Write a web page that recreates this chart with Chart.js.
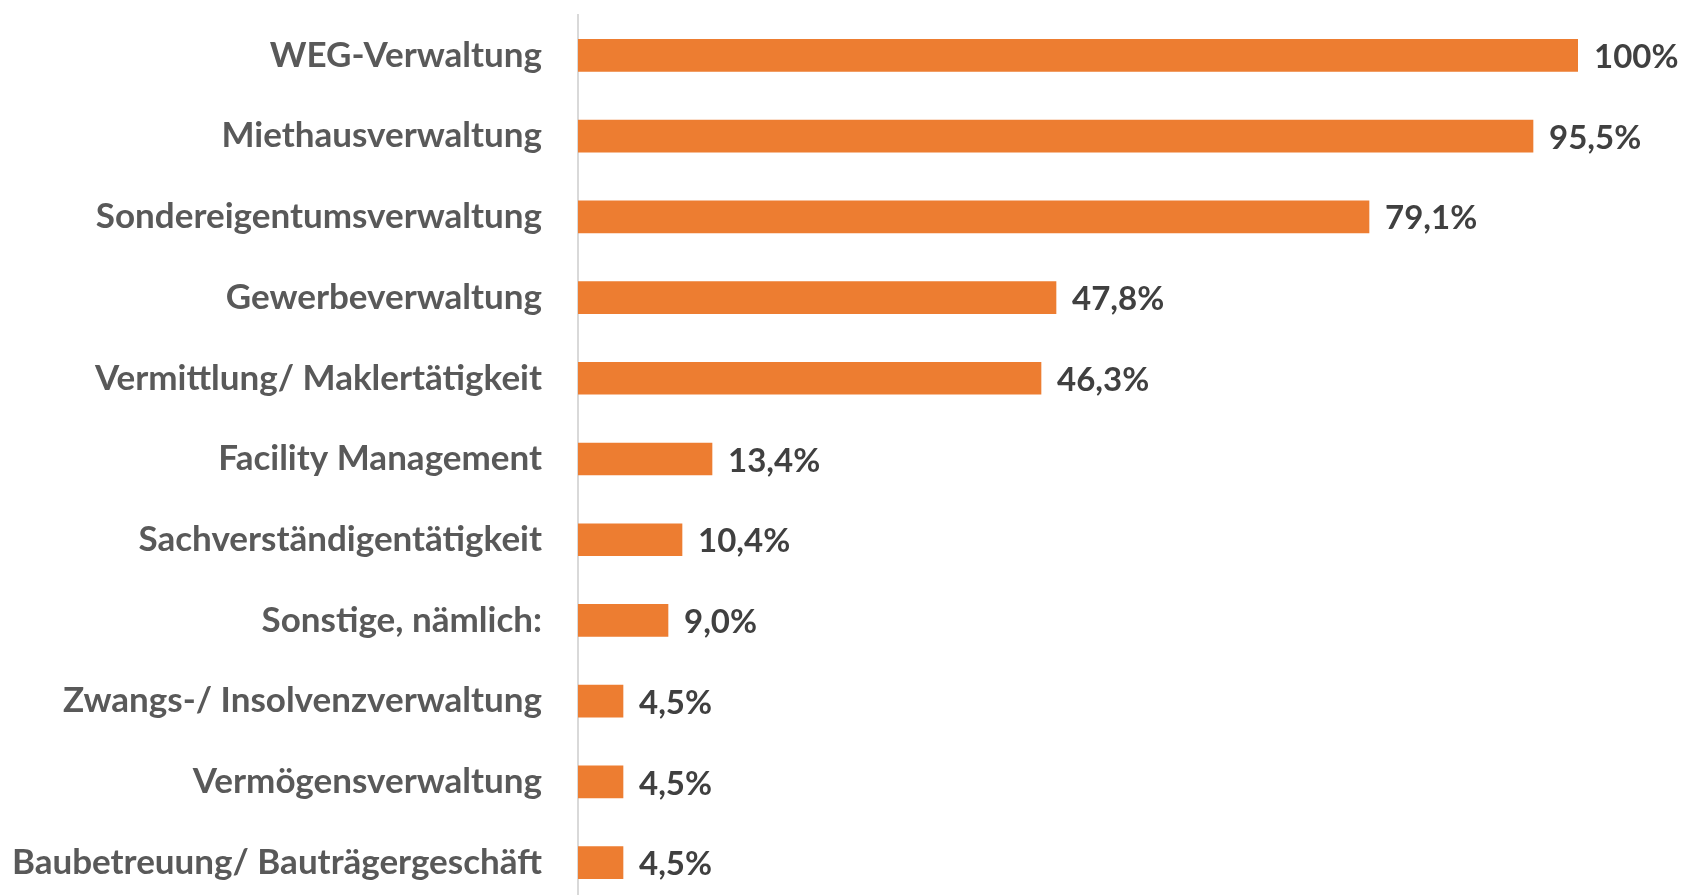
<!DOCTYPE html>
<html>
<head>
<meta charset="utf-8">
<script src="https://cdn.jsdelivr.net/npm/chart.js@4"></script>
<style>
  html, body { margin: 0; padding: 0; background: #fff; overflow: hidden; }
  canvas { display: block; }
</style>
</head>
<body>
<canvas id="chart" width="1682" height="903"></canvas>
<script>
const categories = [
  "WEG-Verwaltung",
  "Miethausverwaltung",
  "Sondereigentumsverwaltung",
  "Gewerbeverwaltung",
  "Vermittlung/ Maklertätigkeit",
  "Facility Management",
  "Sachverständigentätigkeit",
  "Sonstige, nämlich:",
  "Zwangs-/ Insolvenzverwaltung",
  "Vermögensverwaltung",
  "Baubetreuung/ Bauträgergeschäft"
];
const values = [100, 95.5, 79.1, 47.8, 46.3, 13.4, 10.4, 9.0, 4.5, 4.5, 4.5];

const FONT = "Lato, 'Open Sans', sans-serif";

function fmt(v) {
  if (v === 100) return "100%";
  return v.toFixed(1).replace(".", ",") + "%";
}

// draws the value next to each bar
const valueLabels = {
  id: "valueLabels",
  afterDatasetsDraw(chart) {
    const ctx = chart.ctx;
    const meta = chart.getDatasetMeta(0);
    ctx.save();
    ctx.font = "bold 33px " + FONT;
    ctx.fillStyle = "#404040";
    ctx.textAlign = "left";
    ctx.textBaseline = "middle";
    meta.data.forEach((bar, i) => {
      ctx.fillText(fmt(values[i]), bar.x + 16, bar.y + 2);
    });
    ctx.restore();
  }
};

new Chart(document.getElementById("chart"), {
  type: "bar",
  data: {
    labels: categories,
    datasets: [{
      data: values,
      backgroundColor: "#ED7D31",
      borderWidth: 0,
      barThickness: 32
    }]
  },
  options: {
    indexAxis: "y",
    responsive: false,
    animation: false,
    layout: { padding: { top: 15, right: 104, bottom: 0, left: 0 } },
    plugins: {
      legend: { display: false },
      tooltip: { enabled: false }
    },
    scales: {
      x: {
        display: false,
        min: 0,
        max: 100
      },
      y: {
        grid: { display: false, drawTicks: false },
        border: { display: true, color: "#D9D9D9", width: 2 },
        ticks: {
          padding: 36,
          color: "#595959",
          font: { family: FONT, size: 35, weight: "bold" }
        },
        afterFit(scale) {
          scale.width = 578;
          scale.paddingTop = 0;
          scale.paddingBottom = 0;
        }
      }
    }
  },
  plugins: [valueLabels]
});
</script>
</body>
</html>
